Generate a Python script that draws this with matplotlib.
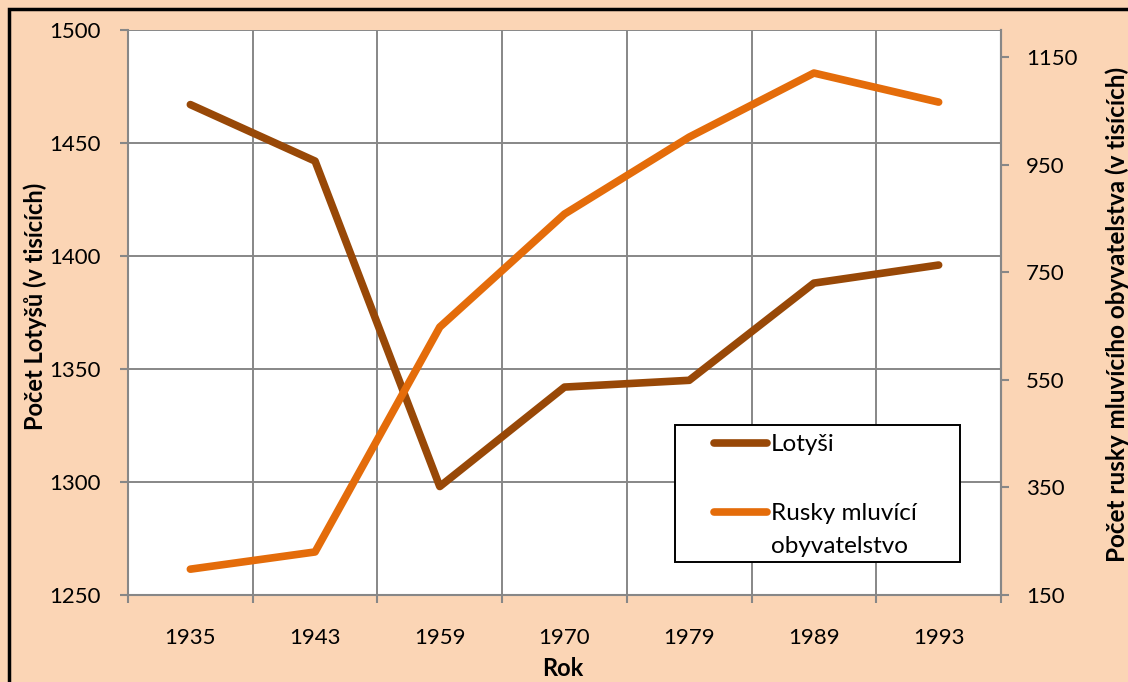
import matplotlib
matplotlib.use("Agg")
import matplotlib.pyplot as plt
from matplotlib.patches import Rectangle
from matplotlib.lines import Line2D
from matplotlib.legend_handler import HandlerLine2D

years = ["1935", "1943", "1959", "1970", "1979", "1989", "1993"]
lotysi = [1467, 1442, 1298, 1342, 1345, 1388, 1396]
rusky = [198, 230, 648, 858, 1001, 1120, 1066]

plt.rcParams['font.family'] = ['Lato', 'DejaVu Sans']

W, H = 1128, 682
fig = plt.figure(figsize=(W/100, H/100), dpi=100)
fig.patch.set_facecolor('#FBD5B5')

L, R, T, B = 128, 1001, 30, 595
ax = fig.add_axes([L/W, 1-B/H, (R-L)/W, (B-T)/H])
ax.set_facecolor('white')

gray = '#878787'
x = list(range(len(years)))
c1 = '#984807'
c2 = '#E46C0A'
ax.plot(x, lotysi, color=c1, lw=5.5, solid_capstyle='round', solid_joinstyle='round', zorder=3)
ax.set_xlim(-0.5, len(years)-0.5)
ax.set_ylim(1250, 1500)
ax.set_yticks([1250, 1300, 1350, 1400, 1450, 1500])
ax.set_xticks(x)
ax.set_xticklabels(years)
ax.set_xticks([i-0.5 for i in range(len(years)+1)], minor=True)
ax.tick_params(axis='x', which='major', length=0, pad=24, labelsize=16)
ax.tick_params(axis='x', which='minor', length=6, color=gray, width=1.5, direction='out')
ax.tick_params(axis='y', length=6, color=gray, width=1.5, labelsize=16, pad=14)
ax.grid(True, which='minor', axis='x', color=gray, lw=1.4)
ax.grid(True, which='major', axis='y', color=gray, lw=1.4)
for s in ax.spines.values():
    s.set_color(gray)
    s.set_linewidth(1.5)
ax.spines['top'].set_visible(False)
ax.set_axisbelow(True)

ax2 = ax.twinx()
ax2.plot(x, rusky, color=c2, lw=5.5, solid_capstyle='round', solid_joinstyle='round', zorder=3)
ax2.set_ylim(150, 1200)
ax2.set_yticks([150, 350, 550, 750, 950, 1150])
ax2.tick_params(axis='y', length=6, color=gray, width=1.5, labelsize=16, pad=12)
for s in ax2.spines.values():
    s.set_visible(False)
ax2.spines['right'].set_visible(True)
ax2.spines['right'].set_color(gray)
ax2.spines['right'].set_linewidth(1.5)

fig.text(35/W, 1-306/H, 'Počet Lotyšů (v tisících)', fontsize=17, fontweight='bold',
         rotation=90, ha='center', va='center')
fig.text(563/W, 1-669/H, 'Rok', fontsize=17, fontweight='bold', ha='center', va='center')
fig.text(1117/W, 1-314/H, 'Počet rusky mluvícího obyvatelstva (v tisících)', fontsize=17.5,
         fontweight='bold', rotation=90, ha='center', va='center')

# legend box
ax2.add_patch(Rectangle(((675-L)/(R-L), (B-562)/(B-T)), (960-675)/(R-L), (562-425)/(B-T),
                        transform=ax2.transAxes, facecolor='white', edgecolor='black',
                        lw=1.4, zorder=9))


class ShiftedLine(HandlerLine2D):
    def __init__(self, shift=0.0, **kw):
        super().__init__(**kw)
        self.shift = shift

    def create_artists(self, legend, orig_handle, xdescent, ydescent, width, height, fontsize, trans):
        return super().create_artists(legend, orig_handle, xdescent, ydescent - 2*self.shift,
                                      width, height, fontsize, trans)


h1 = Line2D([], [], color=c1, lw=5.5, solid_capstyle='round')
h2 = Line2D([], [], color=c2, lw=5.5, solid_capstyle='round')
leg = ax2.legend([h1, h2], ['Lotyši', 'Rusky mluvící\nobyvatelstvo'],
                 loc='upper left', bbox_to_anchor=((714-L)/(R-L), (B-434)/(B-T)),
                 frameon=False, fontsize=17.5, handlelength=2.2, handletextpad=0.15,
                 labelspacing=1.96, borderpad=0, borderaxespad=0,
                 handler_map={h2: ShiftedLine(shift=12.6)})
for t in leg.get_texts():
    t.set_linespacing(1.7)
leg.set_zorder(10)

fig.patches.append(Rectangle((9/W, -0.1), 1.2, 1.1 - 9/H, transform=fig.transFigure,
                             fill=False, edgecolor='black', lw=2.5, zorder=0))

fig.savefig('out.png', dpi=100, facecolor=fig.get_facecolor())
